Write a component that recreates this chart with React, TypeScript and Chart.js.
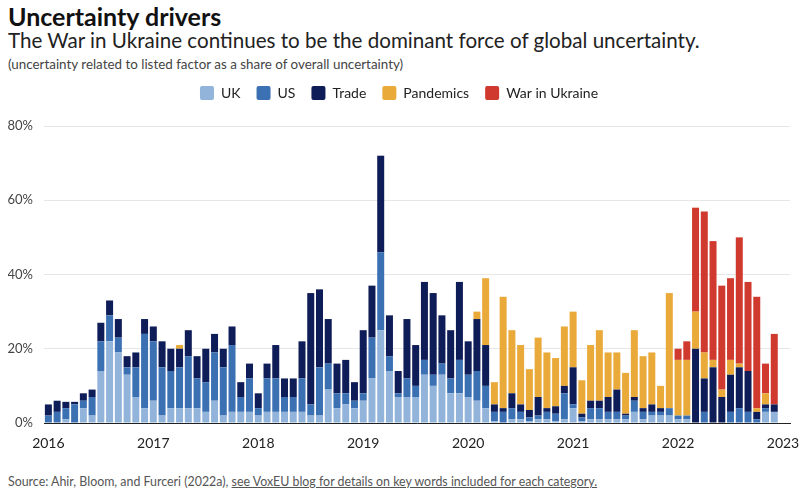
import React, { useEffect, useRef } from 'react';
import { Chart, registerables, ChartConfiguration } from 'chart.js';
Chart.register(...registerables);

// monthly values, Jan 2016 .. Dec 2022 (share of overall uncertainty, %)
const years = ['2016', '2017', '2018', '2019', '2020', '2021', '2022', '2023'];

const uk = [
  0, 0, 1, 0, 4, 2, 14, 22, 19, 13, 7, 4,
  6, 2, 4, 4, 4, 4, 3, 6, 2, 3, 3, 3,
  2, 3, 3, 3, 3, 3, 2, 2, 9, 4, 5, 4,
  6, 12, 25, 14, 7, 7, 7, 13, 10, 13, 8, 8,
  7, 6, 4, 0.5, 0, 1, 1, 0.5, 1, 1, 0.5, 1,
  4, 0.5, 1, 1, 1, 1, 1, 3, 1, 2, 2, 2,
  1, 1, 0, 0, 0, 0, 0, 0, 0, 0, 3, 3,
];
const us = [
  2, 3, 3, 5, 2, 5, 8, 7, 4, 2, 8, 20,
  16, 13, 10, 11, 14, 8, 8, 13, 13, 18, 4, 9,
  2, 9, 9, 4, 4, 9, 3, 13, 7, 4, 3, 2,
  2, 11, 21, 4, 1, 5, 3, 4, 3, 3, 4, 9,
  6, 8, 6, 2.5, 3, 3, 2, 1, 1, 2, 2, 7,
  1, 1, 3, 3, 2, 2, 1, 3, 2, 1, 1, 2,
  1, 1, 0, 3, 0, 0, 3, 4, 3, 1, 1, 0,
];
const trade = [
  3, 3, 1.7, 0.7, 2, 2, 5, 4, 5, 3, 4, 4,
  4, 7, 6, 5, 7, 6, 9, 5, 5, 5, 4, 4,
  4, 4, 9, 5, 5, 10, 30, 21, 12, 8, 9, 5,
  17, 14, 26, 11, 6, 16, 11, 21, 22, 13, 13, 21,
  9, 14, 11, 2, 1, 4, 2, 2, 5, 1, 2, 2,
  10, 1, 2, 2, 4, 6, 0.5, 1, 1, 2, 1, 0,
  0, 0, 20, 9, 15, 7, 10, 11, 11, 2, 1, 2,
];
const pandemics = [
  0, 0, 0, 0, 0, 0, 0, 0, 0, 0, 0, 0,
  0, 0, 0, 1, 0, 0, 0, 0, 0, 0, 0, 0,
  0, 0, 0, 0, 0, 0, 0, 0, 0, 0, 0, 0,
  0, 0, 0, 0, 0, 0, 0, 0, 0, 0, 0, 0,
  0, 2, 18, 6, 30, 17, 16, 11, 16, 15, 13, 16,
  15, 9, 15, 19, 12, 10, 11, 18, 14, 14, 6, 31,
  15, 15, 10, 7, 2, 2, 4, 1, 0, 1, 3, 0,
];
const war = [
  0, 0, 0, 0, 0, 0, 0, 0, 0, 0, 0, 0,
  0, 0, 0, 0, 0, 0, 0, 0, 0, 0, 0, 0,
  0, 0, 0, 0, 0, 0, 0, 0, 0, 0, 0, 0,
  0, 0, 0, 0, 0, 0, 0, 0, 0, 0, 0, 0,
  0, 0, 0, 0, 0, 0, 0, 0, 0, 0, 0, 0,
  0, 0, 0, 0, 0, 0, 0, 0, 0, 0, 0, 0,
  3, 5, 28, 38, 32, 28, 22, 34, 24, 30, 8, 19,
];
const yTicks = [0, 20, 40, 60, 80];

const series = [
  { label: 'UK', values: uk, color: '#93b4da' },
  { label: 'US', values: us, color: '#3b71b3' },
  { label: 'Trade', values: trade, color: '#0e1c57' },
  { label: 'Pandemics', values: pandemics, color: '#e9aa3a' },
  { label: 'War in Ukraine', values: war, color: '#d03a2e' },
];

const font = 'Lato, "Noto Sans", sans-serif';

// make room between legend and plot area
const legendSpacer = {
  id: 'legendSpacer',
  beforeInit(chart: any) {
    const fit = chart.legend.fit;
    chart.legend.fit = function () {
      fit.bind(chart.legend)();
      this.height = 56;
    };
  },
};

const UncertaintyChart: React.FC = () => {
  const chartRef = useRef<HTMLCanvasElement>(null);
  const chartInstanceRef = useRef<Chart | null>(null);

  useEffect(() => {
    if (!chartRef.current) return;
    if (chartInstanceRef.current) chartInstanceRef.current.destroy();
    const ctx = chartRef.current.getContext('2d');
    if (!ctx) return;

    const config: ChartConfiguration = {
      type: 'bar',
      data: {
        datasets: series.map(s => ({
          label: s.label,
          data: s.values.map((v, i) => ({ x: i, y: v })),
          backgroundColor: s.color,
          borderWidth: 0,
          barPercentage: 0.8,
          categoryPercentage: 1,
        })),
      },
      options: {
        animation: false,
        responsive: true,
        maintainAspectRatio: false,
        layout: { padding: { left: 8, right: 10, top: 0, bottom: 9 } },
        scales: {
          x: {
            type: 'linear',
            stacked: true,
            offset: false,
            min: -0.5,
            max: 84.8,
            afterBuildTicks: (scale: any) => {
              scale.ticks = years.map((_, k) => ({ value: k * 12 }));
            },
            afterFit: (scale: any) => {
              scale.paddingLeft = 0;
              scale.paddingRight = 0;
              scale.height = 36;
            },
            grid: { display: false, drawTicks: false },
            border: { display: true, color: '#222', width: 1 },
            ticks: {
              color: '#222',
              padding: 12,
              maxRotation: 0,
              autoSkip: false,
              font: { family: font, size: 14 },
              callback: (value: any) => years[Math.round(Number(value) / 12)],
            },
          },
          y: {
            stacked: true,
            min: 0,
            max: 80,
            afterBuildTicks: (scale: any) => {
              scale.ticks = yTicks.map(v => ({ value: v }));
            },
            afterFit: (scale: any) => {
              scale.width = 36;
            },
            grid: { color: '#e6e6e6', drawTicks: false },
            border: { display: false },
            ticks: {
              color: '#444',
              padding: 11,
              font: { family: font, size: 13 },
              callback: (value: any) => `${value}%`,
            },
          },
        },
        plugins: {
          legend: {
            position: 'top',
            align: 'center',
            labels: {
              boxWidth: 14,
              boxHeight: 14,
              useBorderRadius: true,
              borderRadius: 2,
              padding: 16,
              color: '#222',
              font: { family: font, size: 14 },
            },
          },
          tooltip: { enabled: false },
        },
      },
      plugins: [legendSpacer],
    };

    chartInstanceRef.current = new Chart(ctx, config);
    return () => {
      if (chartInstanceRef.current) {
        chartInstanceRef.current.destroy();
        chartInstanceRef.current = null;
      }
    };
  }, []);

  return (
    <div style={{ position: 'absolute', left: 0, top: 70, width: 800, height: 398 }}>
      <canvas ref={chartRef}></canvas>
    </div>
  );
};

export default function App() {
  return (
    <div style={{ position: 'fixed', left: 0, top: 0, width: 800, height: 504, background: '#fff', fontFamily: font }}>
      <div style={{ position: 'absolute', left: 8, top: 1, fontSize: 25, fontWeight: 700, color: '#111', lineHeight: '30px' }}>
        Uncertainty drivers
      </div>
      <div style={{ position: 'absolute', left: 8, top: 27, fontSize: 20.6, color: '#222', lineHeight: '26px' }}>
        The War in Ukraine continues to be the dominant force of global uncertainty.
      </div>
      <div style={{ position: 'absolute', left: 8, top: 55, fontSize: 13.4, color: '#444', lineHeight: '18px' }}>
        (uncertainty related to listed factor as a share of overall uncertainty)
      </div>
      <UncertaintyChart />
      <div style={{ position: 'absolute', left: 8, top: 474, fontSize: 12.4, color: '#555', lineHeight: '16px' }}>
        Source: Ahir, Bloom, and Furceri (2022a),{' '}
        <span style={{ textDecoration: 'underline' }}>see VoxEU blog for details on key words included for each category.</span>
      </div>
    </div>
  );
}
